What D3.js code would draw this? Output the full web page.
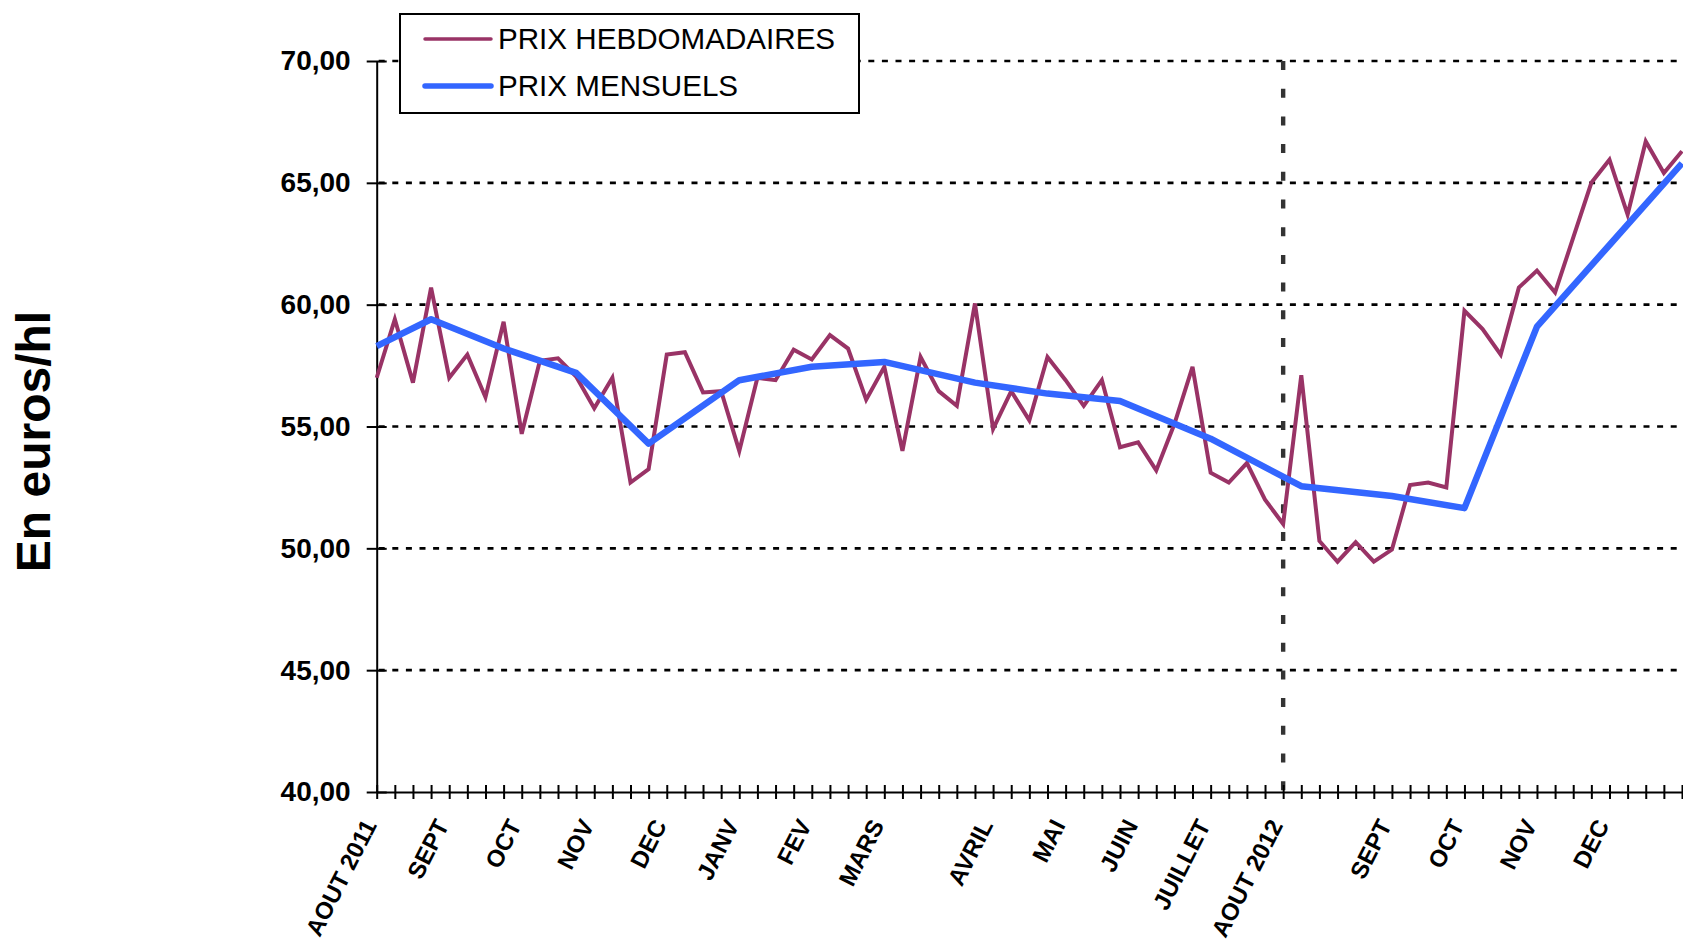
<!DOCTYPE html>
<html>
<head>
<meta charset="utf-8">
<script src="https://cdn.jsdelivr.net/npm/d3@7"></script>
<style>
  html, body { margin: 0; padding: 0; background: #fff; }
  svg { display: block; font-family: "Liberation Sans", Arial, sans-serif; }
</style>
</head>
<body>
<svg id="chart" width="1683" height="944"></svg>
<script>
// ---- DATA ----
const weeklyPrices = [
  57.0, 59.4, 56.8, 60.7, 57.0, 57.95, 56.2, 59.3, 54.7, 57.7,
  57.8, 57.05, 55.75, 57.0, 52.7, 53.25, 57.95, 58.05, 56.4, 56.45,
  54.0, 57.0, 56.9, 58.15, 57.75, 58.75, 58.2, 56.1, 57.45, 54.0,
  57.85, 56.45, 55.85, 60.05, 54.9, 56.45, 55.25, 57.85, 56.9, 55.85,
  56.9, 54.15, 54.35, 53.2, 55.1, 57.45, 53.1, 52.7, 53.5, 52.0,
  51.0, 57.1, 50.3, 49.45, 50.25, 49.45, 49.95, 52.6, 52.7, 52.5,
  59.75, 59.0, 57.95, 60.7, 61.4, 60.5, 62.75, 65.0, 65.95, 63.7,
  66.7, 65.4, 66.3
];
const monthlyWeek = [0, 3, 7, 11, 15, 20, 24, 28, 33, 37, 41, 46, 51, 56, 60, 64, 68, 72];
const monthlyPrices = [58.3, 59.4, 58.2, 57.2, 54.3, 56.9, 57.45, 57.65, 56.8, 56.35, 56.05, 54.5, 52.55, 52.15, 51.65, 59.1, 62.45, 65.8];
const monthLabels = ["AOUT 2011", "SEPT", "OCT", "NOV", "DEC", "JANV", "FEV", "MARS", "AVRIL", "MAI", "JUIN", "JUILLET", "AOUT 2012", "SEPT", "OCT", "NOV", "DEC"];
const monthLabelWeek = [0, 4, 8, 12, 16, 20, 24, 28, 34, 38, 42, 46, 50, 56, 60, 64, 68];
const yTicks = [40, 45, 50, 55, 60, 65, 70];
const markerWeek = 50;
const seriesNames = ["PRIX HEBDOMADAIRES", "PRIX MENSUELS"];
const yTitle = "En euros/hl";

// ---- LAYOUT ----
const plotLeft = 376.7, plotRight = 1682, plotTop = 61, plotBottom = 792;
const svg = d3.select("#chart");
const weeks = d3.range(weeklyPrices.length);
const x = d3.scalePoint().domain(weeks).range([plotLeft, plotRight]);
const y = d3.scaleLinear().domain([40, 70]).range([plotBottom, plotTop]);
const fmt = v => d3.format(".2f")(v).replace(".", ",");

// gridlines
svg.append("g").selectAll("line").data(yTicks.filter(t => t > 40)).join("line")
  .attr("x1", plotLeft + 2).attr("x2", plotRight)
  .attr("y1", d => y(d)).attr("y2", d => y(d))
  .attr("stroke", "#000").attr("stroke-width", 2.6)
  .attr("stroke-dasharray", "6,7.6");

// vertical dashed marker
svg.append("line")
  .attr("x1", x(markerWeek)).attr("x2", x(markerWeek))
  .attr("y1", y(70)).attr("y2", plotBottom)
  .attr("stroke", "#333").attr("stroke-width", 4.4)
  .attr("stroke-dasharray", "9,18.7");

// Y axis
const yAxis = d3.axisLeft(y).tickValues(yTicks).tickFormat(fmt).tickSizeInner(10).tickSizeOuter(0).tickPadding(16);
const gy = svg.append("g").attr("transform", `translate(${plotLeft},0)`).call(yAxis);
gy.select(".domain").attr("stroke", "#000").attr("stroke-width", 2);
gy.selectAll(".tick line").attr("x1", -10).attr("x2", 10).attr("stroke", "#000").attr("stroke-width", 2);
gy.selectAll(".tick text").attr("font-size", 28).attr("font-weight", "bold")
  .attr("fill", "#000").attr("font-family", "'Liberation Sans', Arial, sans-serif");

// X axis
const labelMap = new Map(monthLabelWeek.map((w, i) => [w, monthLabels[i]]));
const xAxis = d3.axisBottom(x).tickSizeInner(7).tickSizeOuter(0).tickFormat(d => labelMap.get(d) || "");
const gx = svg.append("g").attr("transform", `translate(0,${plotBottom})`).call(xAxis);
gx.select(".domain").attr("stroke", "#000").attr("stroke-width", 2);
gx.selectAll(".tick line").attr("y1", -7).attr("y2", 7).attr("stroke", "#000").attr("stroke-width", 2);
gx.selectAll(".tick text")
  .attr("font-size", 24).attr("font-weight", "bold").attr("fill", "#000")
  .attr("font-family", "'Liberation Sans', Arial, sans-serif")
  .attr("text-anchor", "end").attr("dy", null)
  .attr("transform", "translate(0,33) rotate(-63)")
  .attr("y", 0).attr("x", 0);

// lines
const weeklyLine = d3.line().x((d, i) => x(i)).y(d => y(d));
svg.append("path").datum(weeklyPrices)
  .attr("d", weeklyLine).attr("fill", "none")
  .attr("stroke", "#993366").attr("stroke-width", 4).attr("stroke-linejoin", "miter");

const monthlyLine = d3.line().x((d, i) => x(monthlyWeek[i])).y(d => y(d));
svg.append("path").datum(monthlyPrices)
  .attr("d", monthlyLine).attr("fill", "none")
  .attr("stroke", "#3366FF").attr("stroke-width", 6.5).attr("stroke-linejoin", "round");

// legend
const lg = svg.append("g");
lg.append("rect").attr("x", 400).attr("y", 14).attr("width", 459).attr("height", 99)
  .attr("fill", "#fff").attr("stroke", "#000").attr("stroke-width", 2);
const legendItems = [
  { name: seriesNames[0], color: "#993366", w: 3.5, yy: 39 },
  { name: seriesNames[1], color: "#3366FF", w: 5.5, yy: 86 }
];
legendItems.forEach(it => {
  lg.append("line").attr("x1", 425).attr("x2", 491).attr("y1", it.yy).attr("y2", it.yy)
    .attr("stroke", it.color).attr("stroke-width", it.w).attr("stroke-linecap", "round");
  lg.append("text").attr("x", 498).attr("y", it.yy + 10).text(it.name)
    .attr("font-size", 29.6).attr("fill", "#000");
});

// y title
svg.append("text").attr("transform", "translate(50,441.5) rotate(-90)")
  .attr("text-anchor", "middle").attr("font-size", 48).attr("font-weight", "bold")
  .attr("fill", "#000").text(yTitle);
</script>
</body>
</html>
